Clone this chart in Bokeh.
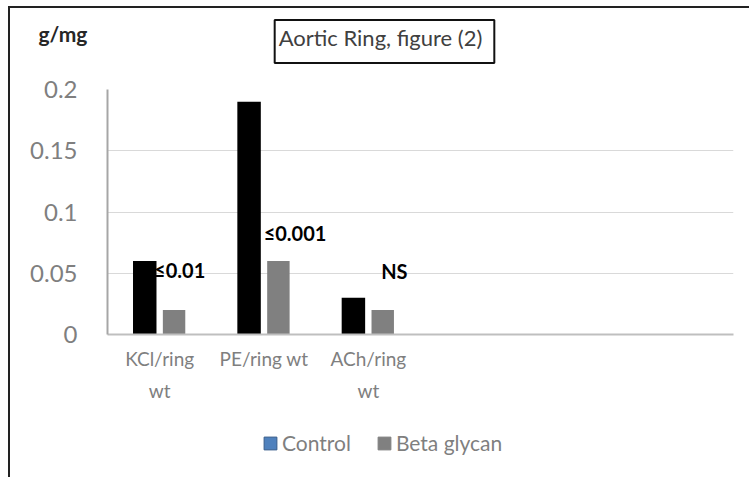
from bokeh.plotting import figure
from bokeh.layouts import column
from bokeh.models import (ColumnDataSource, FactorRange, Range1d, FixedTicker,
                          NumeralTickFormatter, Label, Legend, LegendItem)
from bokeh.transform import dodge
from bokeh.core.properties import value
from bokeh.embed import file_html
from bokeh.resources import INLINE

# ---- data ----
categories = ["KCl/ring\nwt", "PE/ring wt", "ACh/ring\nwt"]
empty_slots = [" ", "  ", "   "]
control = [0.06, 0.19, 0.03]
beta_glycan = [0.02, 0.06, 0.02]
sig_labels = ["\u22640.01", "\u22640.001", "NS"]
y_ticks = [0, 0.05, 0.1, 0.15, 0.2]
series_names = ["Control", "Beta glycan"]
y_unit = "g/mg"
chart_title = "Aortic Ring, figure (2)"

# ---- placement of the significance labels (layout only) ----
sig_label_y = [0.053, 0.0826, 0.052]
sig_label_dx = [20, 31, 26]

FONT = "Lato"
GREY = "#7f7f7f"
W = 739

aligned_off = True


def no_align(f):
    global aligned_off
    try:
        f.frame_align = False
    except Exception:
        aligned_off = False


def blank_fig(h):
    f = figure(width=W, height=h, output_backend="svg", toolbar_location=None,
               x_range=Range1d(0, 1), y_range=Range1d(0, 1),
               x_axis_type=None, y_axis_type=None)
    f.min_border = 0
    f.outline_line_color = None
    f.background_fill_color = "white"
    f.border_fill_color = "white"
    f.title.visible = False
    no_align(f)
    return f


# ---------------- header: unit + boxed title ----------------
head = blank_fig(66)
dx0 = 0 if aligned_off else -97
head.add_layout(Label(x=28 + dx0, y=41, x_units="screen", y_units="screen", text=y_unit,
                      text_font=FONT, text_font_style="bold", text_font_size="21px",
                      text_color="#262626", text_align="left", text_baseline="middle"))
head.add_layout(Label(x=374 + dx0, y=33, x_units="screen", y_units="screen", text=chart_title,
                      text_font=FONT, text_font_size="22px", text_color="#404040",
                      text_align="center", text_baseline="middle",
                      border_line_color="#111111", border_line_width=2,
                      background_fill_color="white", padding=(4, 12, 4, 12)))

# ---------------- main chart ----------------
src = ColumnDataSource(dict(cat=categories, control=control, beta=beta_glycan))
lab_src = ColumnDataSource(dict(cat=categories, text=sig_labels, y=sig_label_y, dx=sig_label_dx))

p = figure(width=W, height=345, output_backend="svg", toolbar_location=None,
           x_range=FactorRange(*(categories + empty_slots), range_padding=0),
           y_range=Range1d(0, 0.2))
p.title.visible = False
no_align(p)
p.min_border_left = 97
p.min_border_right = 16
p.min_border_top = 15
p.min_border_bottom = 85
p.outline_line_color = None
p.background_fill_color = "white"
p.border_fill_color = "white"

p.vbar(x=dodge("cat", -0.143, range=p.x_range), top="control", width=0.225,
       source=src, fill_color="black", line_color=None)
p.vbar(x=dodge("cat", 0.138, range=p.x_range), top="beta", width=0.215,
       source=src, fill_color="#808080", line_color=None)

p.text(x="cat", y="y", text="text", x_offset="dx", source=lab_src,
       text_align="center", text_baseline="middle",
       text_font=value(FONT), text_font_style="bold", text_font_size="20px",
       text_color="black")

p.yaxis.ticker = FixedTicker(ticks=y_ticks)
p.yaxis.formatter = NumeralTickFormatter(format="0.[00]")
p.yaxis.major_tick_line_color = None
p.yaxis.minor_tick_line_color = None
p.yaxis.axis_line_color = "#a6a6a6"
p.yaxis.axis_line_width = 2
p.yaxis.major_label_standoff = 24
p.yaxis.major_label_text_font = FONT
p.yaxis.major_label_text_font_size = "24px"
p.yaxis.major_label_text_color = GREY

p.xaxis.major_tick_line_color = None
p.xaxis.minor_tick_line_color = None
p.xaxis.axis_line_color = "#bfbfbf"
p.xaxis.axis_line_width = 2
p.xaxis.major_label_standoff = 6
p.xaxis.major_label_text_font = FONT
p.xaxis.major_label_text_font_size = "19px"
p.xaxis.major_label_text_color = GREY
p.xaxis.major_label_text_line_height = 1.4

p.xgrid.grid_line_color = None
p.ygrid.grid_line_color = "#d9d9d9"
p.ygrid.grid_line_width = 1

# ---------------- footer: legend ----------------
foot = blank_fig(58)
# legend swatch proxies, kept outside the visible range
proxy = ColumnDataSource(dict(x=[-1.0], top=[0.0]))
sw_ctrl = foot.vbar(x="x", top="top", width=0.1, source=proxy,
                    fill_color="#4f81bd", line_color="#385d8a")
sw_beta = foot.vbar(x="x", top="top", width=0.1, source=proxy,
                    fill_color="#808080", line_color="#808080")
legend = Legend(items=[LegendItem(label=series_names[0], renderers=[sw_ctrl]),
                       LegendItem(label=series_names[1], renderers=[sw_beta])],
                orientation="horizontal",
                location=(252 + (0 if aligned_off else -97), 22))
legend.border_line_color = None
legend.background_fill_alpha = 0
legend.margin = 0
legend.padding = 5
legend.glyph_width = 16
legend.glyph_height = 16
legend.label_standoff = 4
legend.spacing = 25
legend.label_text_font = FONT
legend.label_text_font_size = "21px"
legend.label_text_color = GREY
foot.add_layout(legend)

page = column(head, p, foot, spacing=0,
              styles={"border-top": "2px solid #222", "border-left": "2px solid #222",
                      "margin-left": "8px", "margin-top": "6px"})

open("out.html", "w").write(file_html(page, INLINE))
